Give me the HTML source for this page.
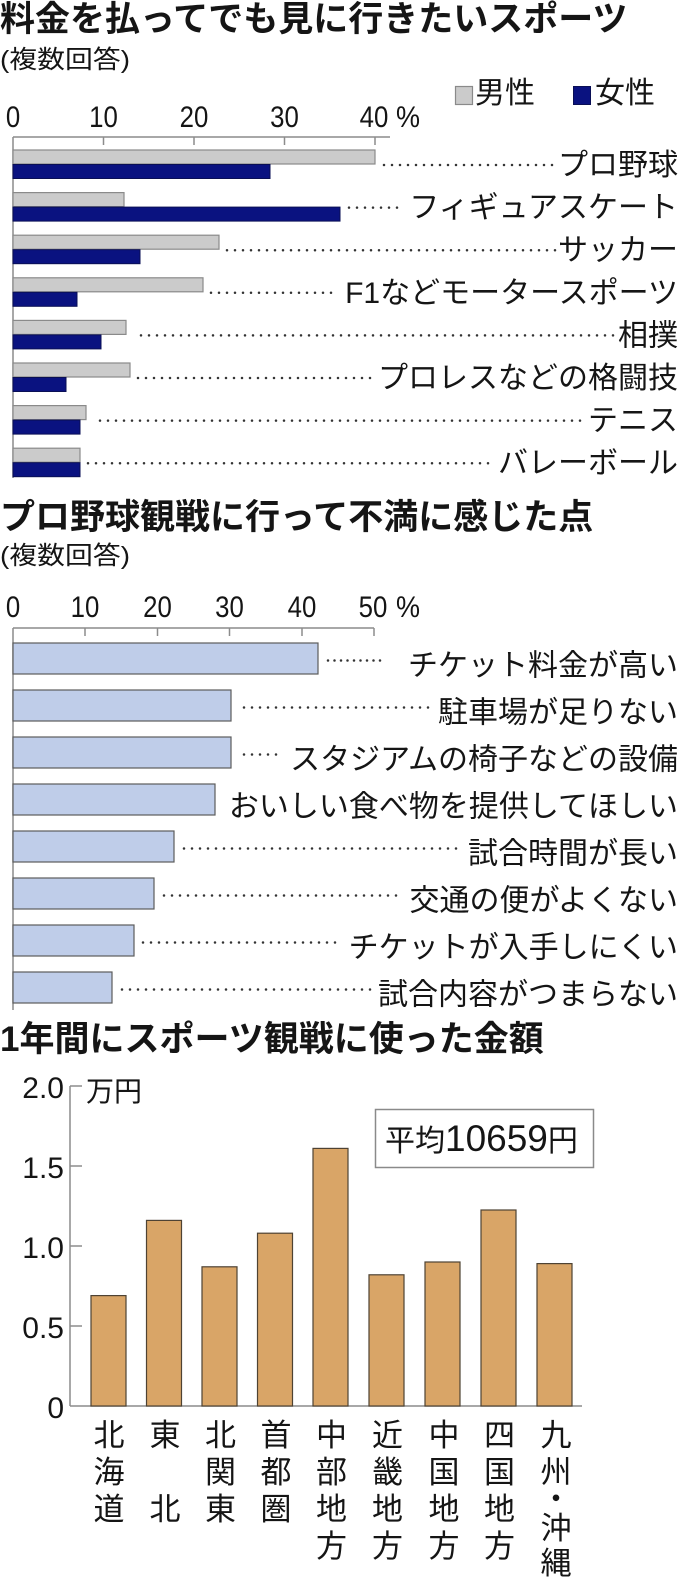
<!DOCTYPE html>
<html><head><meta charset="utf-8"><style>
html,body{margin:0;padding:0;background:#fff;}
svg{display:block;}
.j{font-family:"Liberation Sans","Noto Sans CJK JP",sans-serif;fill:#151515;}
.n{font-family:"Liberation Sans",sans-serif;fill:#151515;}
.t{font-weight:bold;font-size:35px;}
.lb{font-size:30px;}
.sub{font-size:25px;}
.ax{stroke:#8c8c8c;stroke-width:1.5;fill:none;}
.dot{stroke:#333;stroke-width:2.5;stroke-linecap:round;stroke-dasharray:0 8;fill:none;}
.g{fill:#cbcbcb;stroke:#8a8a8a;stroke-width:1.2;}
.nv{fill:#0a1280;stroke:#0a0f55;stroke-width:1;}
.lbbar{fill:#bfcde9;stroke:#5c5c5c;stroke-width:1.2;}
.tan{fill:#d9a567;stroke:#4e4233;stroke-width:1.2;}
</style></head><body>
<svg width="680" height="1581" viewBox="0 0 680 1581" xmlns="http://www.w3.org/2000/svg">
<rect width="680" height="1581" fill="#fff"/>

<!-- ===== Chart 1 ===== -->
<text class="j t" x="0" y="31">料金を払ってでも見に行きたいスポーツ</text>
<text class="j sub" x="0" y="68" textLength="130" lengthAdjust="spacingAndGlyphs">(複数回答)</text>
<!-- legend -->
<rect x="455.5" y="86.5" width="17" height="18" class="g"/>
<text class="j lb" x="475" y="103">男性</text>
<rect x="573.5" y="86.5" width="17" height="18" class="nv"/>
<text class="j lb" x="595" y="103">女性</text>
<!-- axis labels -->
<g class="n" font-size="30">
<g transform="translate(13,127) scale(0.86,1)"><text x="0" y="0" text-anchor="middle">0</text></g>
<g transform="translate(103.5,127) scale(0.86,1)"><text x="0" y="0" text-anchor="middle">10</text></g>
<g transform="translate(194,127) scale(0.86,1)"><text x="0" y="0" text-anchor="middle">20</text></g>
<g transform="translate(284.5,127) scale(0.86,1)"><text x="0" y="0" text-anchor="middle">30</text></g>
<g transform="translate(374,127) scale(0.86,1)"><text x="0" y="0" text-anchor="middle">40</text></g>
<g transform="translate(396,127) scale(0.9,1)"><text x="0" y="0">%</text></g>
</g>
<!-- axis -->
<line class="ax" x1="13" y1="137" x2="390" y2="137"/>
<line class="ax" x1="13" y1="137" x2="13" y2="478"/>
<line class="ax" x1="103.5" y1="137" x2="103.5" y2="145"/>
<line class="ax" x1="194" y1="137" x2="194" y2="145"/>
<line class="ax" x1="284.5" y1="137" x2="284.5" y2="145"/>
<line class="ax" x1="375" y1="137" x2="375" y2="145"/>
<!-- bars -->
<rect class="g" x="13" y="150" width="362" height="14"/><rect class="nv" x="13" y="164.5" width="257" height="14"/>
<rect class="g" x="13" y="192.6" width="111" height="14"/><rect class="nv" x="13" y="207.1" width="327" height="14"/>
<rect class="g" x="13" y="235.2" width="206" height="14"/><rect class="nv" x="13" y="249.7" width="127" height="14"/>
<rect class="g" x="13" y="277.8" width="190" height="14"/><rect class="nv" x="13" y="292.3" width="64" height="14"/>
<rect class="g" x="13" y="320.4" width="113" height="14"/><rect class="nv" x="13" y="334.9" width="88" height="14"/>
<rect class="g" x="13" y="363" width="117" height="14"/><rect class="nv" x="13" y="377.5" width="53" height="14"/>
<rect class="g" x="13" y="405.6" width="73" height="14"/><rect class="nv" x="13" y="420.1" width="67" height="14"/>
<rect class="g" x="13" y="448.2" width="67" height="14"/><rect class="nv" x="13" y="462.7" width="67" height="14"/>
<!-- leaders -->
<line class="dot" x1="384" y1="165" x2="558" y2="165"/>
<line class="dot" x1="349" y1="207.6" x2="404" y2="207.6"/>
<line class="dot" x1="227" y1="250.2" x2="556" y2="250.2"/>
<line class="dot" x1="211" y1="292.8" x2="336" y2="292.8"/>
<line class="dot" x1="141" y1="335.4" x2="616" y2="335.4"/>
<line class="dot" x1="138" y1="378" x2="374" y2="378"/>
<line class="dot" x1="100" y1="420.6" x2="586" y2="420.6"/>
<line class="dot" x1="88" y1="463.2" x2="494" y2="463.2"/>
<!-- labels -->
<g class="j lb" text-anchor="end">
<text x="678" y="175">プロ野球</text>
<text x="678" y="217.6">フィギュアスケート</text>
<text x="678" y="260.2">サッカー</text>
<text x="678" y="302.8">F1などモータースポーツ</text>
<text x="678" y="345.4">相撲</text>
<text x="678" y="388">プロレスなどの格闘技</text>
<text x="678" y="430.6">テニス</text>
<text x="678" y="473.2">バレーボール</text>
</g>

<!-- ===== Chart 2 ===== -->
<text class="j t" x="0" y="529">プロ野球観戦に行って不満に感じた点</text>
<text class="j sub" x="0" y="564" textLength="130" lengthAdjust="spacingAndGlyphs">(複数回答)</text>
<g class="n" font-size="30">
<g transform="translate(13,617) scale(0.86,1)"><text x="0" y="0" text-anchor="middle">0</text></g>
<g transform="translate(85,617) scale(0.86,1)"><text x="0" y="0" text-anchor="middle">10</text></g>
<g transform="translate(157.5,617) scale(0.86,1)"><text x="0" y="0" text-anchor="middle">20</text></g>
<g transform="translate(229.5,617) scale(0.86,1)"><text x="0" y="0" text-anchor="middle">30</text></g>
<g transform="translate(302,617) scale(0.86,1)"><text x="0" y="0" text-anchor="middle">40</text></g>
<g transform="translate(373,617) scale(0.86,1)"><text x="0" y="0" text-anchor="middle">50</text></g>
<g transform="translate(396,617) scale(0.9,1)"><text x="0" y="0">%</text></g>
</g>
<line class="ax" x1="13" y1="628" x2="374" y2="628"/>
<line class="ax" x1="13" y1="628" x2="13" y2="1010"/>
<line class="ax" x1="85" y1="628" x2="85" y2="636"/>
<line class="ax" x1="157.5" y1="628" x2="157.5" y2="636"/>
<line class="ax" x1="229.5" y1="628" x2="229.5" y2="636"/>
<line class="ax" x1="302" y1="628" x2="302" y2="636"/>
<line class="ax" x1="374" y1="628" x2="374" y2="636"/>
<rect class="lbbar" x="13" y="643" width="305" height="31"/>
<rect class="lbbar" x="13" y="690" width="218" height="31"/>
<rect class="lbbar" x="13" y="737" width="218" height="31"/>
<rect class="lbbar" x="13" y="784" width="202" height="31"/>
<rect class="lbbar" x="13" y="831" width="161" height="31"/>
<rect class="lbbar" x="13" y="878" width="141" height="31"/>
<rect class="lbbar" x="13" y="925" width="121" height="31"/>
<rect class="lbbar" x="13" y="972" width="99" height="31"/>
<line class="dot" style="stroke-dasharray:0 6.5" x1="328" y1="660.5" x2="386" y2="660.5"/>
<line class="dot" x1="244" y1="707.5" x2="431" y2="707.5"/>
<line class="dot" x1="244" y1="754.5" x2="280" y2="754.5"/>
<line class="dot" x1="184" y1="848.5" x2="461" y2="848.5"/>
<line class="dot" x1="164" y1="895.5" x2="401" y2="895.5"/>
<line class="dot" x1="143" y1="942.5" x2="341" y2="942.5"/>
<line class="dot" x1="122" y1="989.5" x2="371" y2="989.5"/>
<g class="j lb" text-anchor="end">
<text x="678" y="675.5">チケット料金が高い</text>
<text x="678" y="722.5">駐車場が足りない</text>
<text x="678" y="769.5">スタジアムの椅子などの設備</text>
<text x="678" y="816.5">おいしい食べ物を提供してほしい</text>
<text x="678" y="863.5">試合時間が長い</text>
<text x="678" y="910.5">交通の便がよくない</text>
<text x="678" y="957.5">チケットが入手しにくい</text>
<text x="678" y="1004.5">試合内容がつまらない</text>
</g>

<!-- ===== Chart 3 ===== -->
<text class="j t" x="0" y="1051">1年間にスポーツ観戦に使った金額</text>
<g class="n" font-size="30" text-anchor="end">
<text x="64" y="1098">2.0</text>
<text x="64" y="1178">1.5</text>
<text x="64" y="1258">1.0</text>
<text x="64" y="1338">0.5</text>
<text x="64" y="1418">0</text>
</g>
<text class="j" font-size="28" x="86" y="1101">万円</text>
<line class="ax" x1="70" y1="1086" x2="70" y2="1406"/>
<line class="ax" x1="70" y1="1406" x2="582" y2="1406"/>
<line class="ax" x1="70" y1="1086" x2="82" y2="1086"/>
<line class="ax" x1="70" y1="1166" x2="82" y2="1166"/>
<line class="ax" x1="70" y1="1246" x2="82" y2="1246"/>
<line class="ax" x1="70" y1="1326" x2="82" y2="1326"/>
<!-- bars: top = 1406-160v -->
<rect class="tan" x="91" y="1295.6" width="35" height="110.4"/>
<rect class="tan" x="146.5" y="1220.4" width="35" height="185.6"/>
<rect class="tan" x="202" y="1266.8" width="35" height="139.2"/>
<rect class="tan" x="257.5" y="1233.2" width="35" height="172.8"/>
<rect class="tan" x="313" y="1148.4" width="35" height="257.6"/>
<rect class="tan" x="369" y="1274.8" width="35" height="131.2"/>
<rect class="tan" x="425" y="1262" width="35" height="144"/>
<rect class="tan" x="481" y="1210" width="35" height="196"/>
<rect class="tan" x="537" y="1263.6" width="35" height="142.4"/>
<!-- legend box -->
<rect x="375.5" y="1109.5" width="218" height="58" fill="#fff" stroke="#8a8a8a" stroke-width="1.5"/>
<text class="j" x="385" y="1151"><tspan font-size="30">平均</tspan><tspan font-size="37" font-family="Liberation Sans, sans-serif">10659</tspan><tspan font-size="30">円</tspan></text>
<!-- category labels -->
<g class="j" font-size="31" text-anchor="middle">
<text x="109" y="1446">北</text><text x="109" y="1483">海</text><text x="109" y="1520">道</text>
<text x="165" y="1446">東</text><text x="165" y="1520">北</text>
<text x="220.5" y="1446">北</text><text x="220.5" y="1483">関</text><text x="220.5" y="1520">東</text>
<text x="276" y="1446">首</text><text x="276" y="1483">都</text><text x="276" y="1520">圏</text>
<text x="331.5" y="1446">中</text><text x="331.5" y="1483">部</text><text x="331.5" y="1520">地</text><text x="331.5" y="1557">方</text>
<text x="387.5" y="1446">近</text><text x="387.5" y="1483">畿</text><text x="387.5" y="1520">地</text><text x="387.5" y="1557">方</text>
<text x="444" y="1446">中</text><text x="444" y="1483">国</text><text x="444" y="1520">地</text><text x="444" y="1557">方</text>
<text x="499.5" y="1446">四</text><text x="499.5" y="1483">国</text><text x="499.5" y="1520">地</text><text x="499.5" y="1557">方</text>
<text x="556" y="1446">九</text><text x="556" y="1483">州</text><text x="556" y="1510">・</text><text x="556" y="1539">沖</text><text x="556" y="1574">縄</text>
</g>
</svg>
</body></html>
